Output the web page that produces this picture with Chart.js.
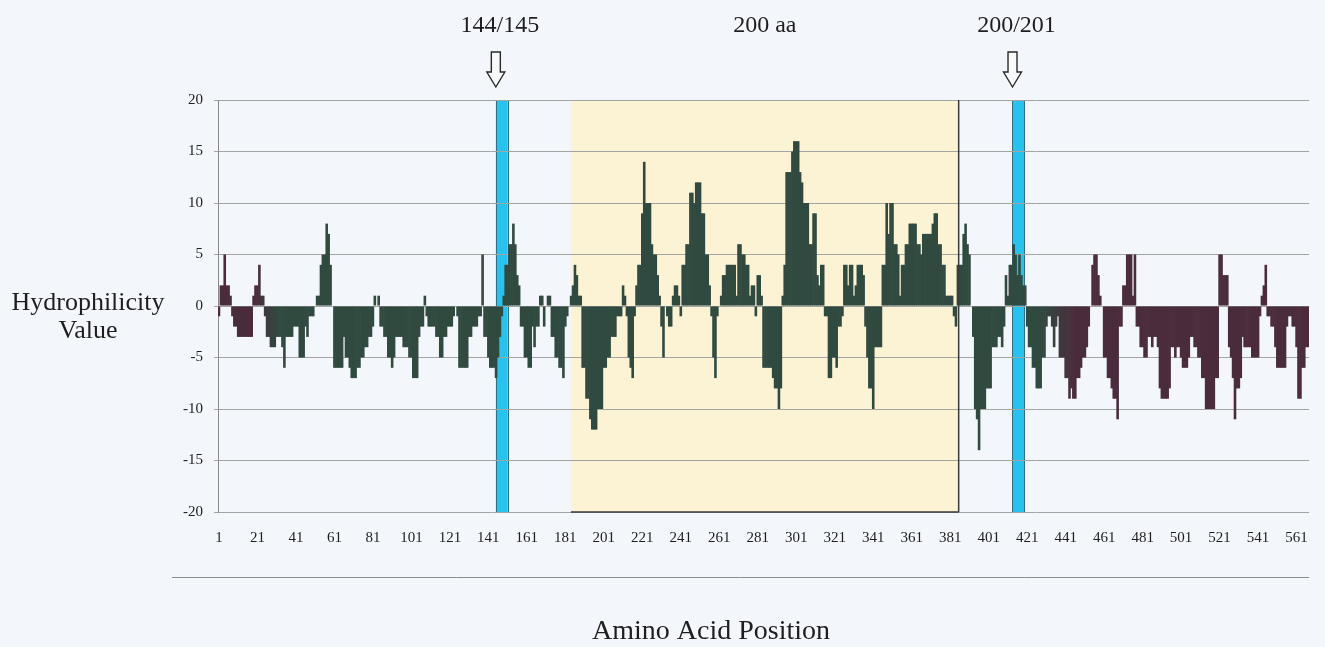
<!DOCTYPE html>
<html>
<head>
<meta charset="utf-8">
<script src="https://cdn.jsdelivr.net/npm/chart.js@4.4.1/dist/chart.umd.min.js"></script>
<style>
  html, body { margin: 0; padding: 0; background: #f3f6fa; }
  #wrap { width: 1325px; height: 647px; position: relative; }
</style>
</head>
<body>
<div id="wrap"><canvas id="c"></canvas></div>
<script>
// Hydrophilicity value per amino acid position (positions 1..567)
const hydrophilicity = [
  -1, 2, 2, 5, 2, 2, 1, -1, -2, -2,
  -3, -3, -3, -3, -3, -3, -3, -3, 1, 2,
  2, 4, 1, 1, -1, -3, -3, -4, -4, -4,
  -3, -3, -3, -4, -6, -3, -3, -3, -3, -2,
  -2, -2, -5, -5, -5, -2, -3, -1, -1, -1,
  0, 1, 1, 4, 5, 5, 8, 7, 4, 0,
  -6, -6, -6, -6, -6, -3, -5, -5, -6, -7,
  -7, -7, -6, -6, -5, -5, -4, -4, -3, -3,
  -2, 1, 0, 1, -2, -2, -3, -3, -5, -5,
  -6, -5, -3, -3, -3, -3, -4, -4, -4, -5,
  -5, -7, -7, -7, -3, -2, -2, 1, -1, -2,
  -2, -2, -2, -3, -3, -5, -5, -3, -3, -2,
  -2, -2, -1, 0, -1, -6, -6, -6, -6, -6,
  -3, -3, -2, -2, -2, -1, -1, 5, -3, -3,
  -5, -6, -6, -6, -7, -5, -3, -1, 1, 4,
  4, 6, 6, 8, 6, 3, 2, -2, -2, -5,
  -5, -6, -6, -2, -4, -2, -2, 1, 1, -2,
  0, 1, 1, -3, -3, -5, -5, -6, -6, -7,
  -2, -1, 0, 1, 2, 4, 3, 1, 1, -6,
  -6, -9, -9, -11, -12, -12, -12, -10, -10, -10,
  -6, -6, -5, -5, -3, -3, -3, -1, -1, -1,
  2, 1, -1, -5, -6, -7, -1, 2, 4, 4,
  9, 14, 10, 10, 10, 6, 5, 5, 3, 1,
  -2, -5, 0, -1, -2, -2, 1, 2, 2, 1,
  -1, 4, 4, 6, 6, 11, 11, 10, 12, 12,
  12, 9, 9, 5, 5, 2, -1, -5, -7, -1,
  0, 1, 3, 3, 4, 4, 4, 4, 4, 1,
  6, 6, 5, 5, 4, 4, 1, 2, 2, -1,
  3, 3, 1, -6, -6, -6, -6, -6, -7, -8,
  -8, -10, -8, 1, 4, 13, 13, 13, 15, 16,
  16, 16, 13, 12, 10, 10, 10, 6, 6, 9,
  9, 3, 2, 4, 4, -1, -1, -7, -7, -5,
  -5, -6, -2, -2, -1, 4, 4, 2, 4, 4,
  1, 2, 4, 4, 4, 3, -2, -5, -8, -8,
  -10, -4, -4, -4, -4, 4, 4, 10, 7, 10,
  10, 6, 6, 5, 1, 4, 4, 6, 6, 8,
  8, 8, 8, 6, 6, 5, 7, 7, 7, 7,
  7, 8, 9, 9, 6, 6, 4, 4, 1, 1,
  1, 1, -1, -2, 4, 4, 4, 7, 8, 6,
  5, 0, -3, -10, -11, -14, -10, -10, -10, -8,
  -8, -8, -4, -4, -4, -3, -3, -4, -2, 3,
  1, 4, 4, 6, 5, 3, 5, 3, 2, 2,
  -2, -4, -4, -6, -6, -8, -8, -8, -5, -5,
  -2, -1, -1, -2, -4, -2, -1, -5, -5, -5,
  -7, -7, -9, -8, -9, -9, -7, -7, -6, -5,
  -5, -4, -2, 0, 4, 5, 5, 3, 1, 0,
  -5, -5, -7, -7, -8, -9, -9, -11, -2, -2,
  2, 2, 5, 5, 5, 1, 5, -2, -2, -4,
  -4, -5, -5, -3, -3, -4, -3, -3, -4, -8,
  -9, -9, -9, -9, -8, -4, -4, -5, -4, -4,
  -5, -6, -6, -6, -5, -3, -3, -4, -4, -5,
  -5, -7, -7, -10, -10, -10, -10, -10, -7, -7,
  5, 5, 3, 3, 3, -4, -5, -7, -11, -8,
  -8, -7, -3, -4, -4, -4, -4, -5, -5, -5,
  -5, -1, 1, 2, 4, -1, -1, -2, -2, -4,
  -6, -6, -6, -6, -6, -2, -1, -1, -2, -2,
  -4, -9, -9, -6, -6, -4, -4
];

// Amino acid positions (categories)
const positions = hydrophilicity.map((_, i) => i + 1);

// Positions that carry a label on the x axis
const tickLabels = ['1', '21', '41', '61', '81', '101', '121', '141', '161', '181',
  '201', '221', '241', '261', '281', '301', '321', '341', '361', '381',
  '401', '421', '441', '461', '481', '501', '521', '541', '561'];

// Value axis range
const yMin = -20, yMax = 20, yStep = 5;

// Highlighted stretch (200 aa) and the two marked cleavage sites
const coreRegion = { from: 183.9, to: 385.4, label: '200 aa' };
const sites = [
  { from: 144.9, to: 151.1, label: '144/145' },
  { from: 413.3, to: 419.7, label: '200/201' }
];

const SERIF = '"Liberation Serif", "Times New Roman", serif';
const TEXT = '#1e1e1e';

// Bars shade from maroon at both ends to dark green in the middle
function mix(a, b, t) {
  const r = Math.round(a[0] + (b[0] - a[0]) * t);
  const g = Math.round(a[1] + (b[1] - a[1]) * t);
  const bl = Math.round(a[2] + (b[2] - a[2]) * t);
  return `rgb(${r},${g},${bl})`;
}
const maroon = [74, 44, 60];
const green = [48, 74, 64];
function barColor(pos) {
  let t;
  if (pos < 20) t = 0;
  else if (pos < 32) t = (pos - 20) / 12;
  else if (pos < 428) t = 1;
  else if (pos < 446) t = 1 - (pos - 428) / 18;
  else t = 0;
  return mix(maroon, green, t);
}

const decor = {
  id: 'decor',
  beforeDraw(chart) {
    const { ctx, chartArea: a, scales: { x } } = chart;
    const px = p => x.getPixelForValue(p - 1);
    ctx.save();
    ctx.fillStyle = '#f3f6fa';
    ctx.fillRect(0, 0, chart.width, chart.height);
    // 200 aa block
    const l = px(coreRegion.from), r = px(coreRegion.to);
    ctx.fillStyle = '#fcf3d5';
    ctx.fillRect(l, a.top, r - l, a.bottom - a.top);
    // cleavage site bands
    sites.forEach(s => {
      const sl = px(s.from), sr = px(s.to);
      ctx.fillStyle = '#27c2ee';
      ctx.fillRect(sl, a.top, sr - sl, a.bottom - a.top);
      ctx.strokeStyle = '#2f6f86';
      ctx.lineWidth = 1;
      ctx.strokeRect(Math.round(sl) + 0.5, a.top + 0.5, Math.round(sr - sl), a.bottom - a.top);
    });
    ctx.restore();
  },
  afterDatasetsDraw(chart) {
    const { ctx, chartArea: a, scales: { x } } = chart;
    const px = p => x.getPixelForValue(p - 1);
    const l = px(coreRegion.from), r = px(coreRegion.to);
    ctx.save();
    ctx.strokeStyle = '#3a3a3a';
    ctx.lineWidth = 1.5;
    ctx.beginPath();
    ctx.moveTo(r, a.top);
    ctx.lineTo(r, a.bottom);
    ctx.moveTo(l, a.bottom);
    ctx.lineTo(r, a.bottom);
    ctx.stroke();
    ctx.restore();
  },
  afterDraw(chart) {
    const { ctx, chartArea: a, scales: { x } } = chart;
    const px = p => x.getPixelForValue(p - 1);
    ctx.save();
    ctx.fillStyle = TEXT;
    ctx.textAlign = 'center';
    ctx.textBaseline = 'middle';
    // labels above the plot
    ctx.font = `24px ${SERIF}`;
    sites.forEach(s => {
      const cx = (px(s.from) + px(s.to)) / 2;
      ctx.fillText(s.label, cx - 2, 26);
      drawArrow(ctx, cx - 6, 52, 87);
    });
    ctx.fillText(coreRegion.label, (px(coreRegion.from) + px(coreRegion.to)) / 2, 26);
    // axis titles
    ctx.font = `26px ${SERIF}`;
    ctx.fillText('Hydrophilicity', 88, 303);
    ctx.fillText('Value', 88, 331);
    ctx.font = `28px ${SERIF}`;
    ctx.fillText('Amino Acid Position', 711, 632);
    // rule under the position labels
    ctx.strokeStyle = '#8c8c8c';
    ctx.lineWidth = 1;
    ctx.beginPath();
    ctx.moveTo(172, 577.5);
    ctx.lineTo(a.right, 577.5);
    ctx.stroke();
    ctx.restore();
  }
};

// hollow down-pointing block arrow
function drawArrow(ctx, cx, top, tip) {
  const shaft = 4.5, head = 9, neck = tip - 15;
  ctx.save();
  ctx.beginPath();
  ctx.moveTo(cx - shaft, top);
  ctx.lineTo(cx + shaft, top);
  ctx.lineTo(cx + shaft, neck);
  ctx.lineTo(cx + head, neck);
  ctx.lineTo(cx, tip);
  ctx.lineTo(cx - head, neck);
  ctx.lineTo(cx - shaft, neck);
  ctx.closePath();
  ctx.fillStyle = '#f7f9fb';
  ctx.fill();
  ctx.strokeStyle = '#2a2a2a';
  ctx.lineWidth = 1.4;
  ctx.stroke();
  ctx.restore();
}

new Chart(document.getElementById('c'), {
  type: 'bar',
  data: {
    labels: positions.map(String),
    datasets: [{
      data: hydrophilicity,
      backgroundColor: positions.map(barColor),
      borderWidth: 0,
      barPercentage: 1.35,
      categoryPercentage: 1.0
    }]
  },
  options: {
    responsive: true,
    maintainAspectRatio: false,
    animation: false,
    devicePixelRatio: 1,
    layout: { padding: { top: 100, right: 15, bottom: 0, left: 0 } },
    plugins: { legend: { display: false }, tooltip: { enabled: false } },
    scales: {
      x: {
        type: 'category',
        offset: true,
        grid: { display: false, drawTicks: false },
        border: { display: false },
        ticks: {
          autoSkip: false,
          maxRotation: 0,
          minRotation: 0,
          padding: 17,
          color: TEXT,
          font: { family: SERIF, size: 15 },
          callback(value, index) {
            const lbl = String(positions[index]);
            return tickLabels.includes(lbl) ? lbl : null;
          }
        },
        afterFit(scale) { scale.height = 135; }
      },
      y: {
        min: yMin,
        max: yMax,
        grid: { color: '#a4a4a4', lineWidth: 1, tickLength: 4, drawTicks: true },
        border: { display: true, color: '#8a8a8a' },
        ticks: {
          stepSize: yStep,
          padding: 11,
          color: TEXT,
          font: { family: SERIF, size: 15 }
        },
        afterFit(scale) { scale.width = 218; }
      }
    }
  },
  plugins: [decor]
});
</script>
</body>
</html>
